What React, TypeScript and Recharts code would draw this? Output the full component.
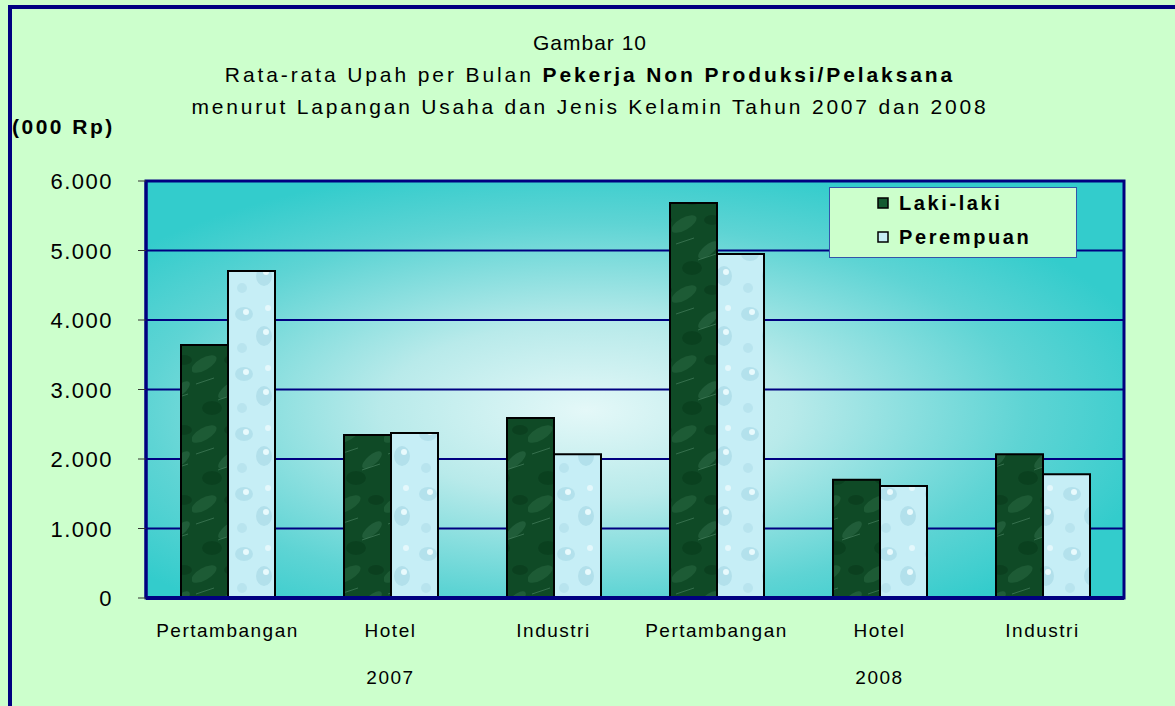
import React from 'react';
import {
  BarChart,
  Bar,
  XAxis,
  YAxis,
  CartesianGrid,
  Legend,
  ReferenceArea,
} from 'recharts';

const categories = ['Pertambangan', 'Hotel', 'Industri', 'Pertambangan', 'Hotel', 'Industri'];
const years = ['', '2007', '', '', '2008', ''];
const lakiLaki = [3640, 2345, 2590, 5685, 1700, 2070];
const perempuan = [4705, 2375, 2070, 4950, 1610, 1780];
const yTicks = [0, 1000, 2000, 3000, 4000, 5000, 6000];

const data = categories.map((name, i) => ({
  name,
  year: years[i],
  laki: lakiLaki[i],
  perempuan: perempuan[i],
}));

const NAVY = '#000080';
const FONT = '"Liberation Sans", Arial, sans-serif';

const fmt = (v: number) => (v === 0 ? '0' : v.toLocaleString('de-DE'));

const YTick = ({ y, payload }: any) => (
  <text x={113} y={y} dy={8} textAnchor="end" fontSize={22} letterSpacing={1.5} fontFamily={FONT} fill="#000">
    {fmt(payload.value)}
  </text>
);

const XTick = ({ x, y, payload, index }: any) => (
  <g>
    <text x={x} y={y + 31} textAnchor="middle" fontSize={19} letterSpacing={1.5} fontFamily={FONT} fill="#000">
      {payload.value}
    </text>
    {years[index] ? (
      <text x={x} y={y + 78} textAnchor="middle" fontSize={19} letterSpacing={1.5} fontFamily={FONT} fill="#000">
        {years[index]}
      </text>
    ) : null}
  </g>
);

const LegendBox = () => (
  <div
    style={{
      position: 'relative',
      width: 248,
      height: 71,
      background: '#CCFFCC',
      border: '1px solid #3355AA',
      boxSizing: 'border-box',
      fontFamily: FONT,
      fontWeight: 'bold',
      fontSize: 20,
      letterSpacing: 2.6,
      color: '#000',
    }}
  >
    {[
      { label: 'Laki-laki', fill: '#145A30' },
      { label: 'Perempuan', fill: '#C8EEF6' },
    ].map((it, i) => (
      <div key={it.label} style={{ position: 'absolute', left: 47, top: 3 + i * 34, display: 'flex', alignItems: 'center', height: 24 }}>
        <svg width={12} height={12} style={{ marginRight: 10 }}>
          <rect x={1} y={1} width={10} height={10} fill={it.fill} stroke="#000" strokeWidth={1.5} />
        </svg>
        <span>{it.label}</span>
      </div>
    ))}
  </div>
);

export default function App() {
  return (
    <div
      style={{
        position: 'absolute',
        left: 0,
        top: 0,
        width: 1175,
        height: 706,
        overflow: 'hidden',
        background: '#CCFFCC',
      }}
    >
      <div
        style={{
          position: 'absolute',
          left: 8,
          top: 5,
          width: 1200,
          height: 800,
          border: `4px solid ${NAVY}`,
          boxSizing: 'border-box',
        }}
      />
      <div style={{ position: 'absolute', left: 0, top: 27, width: 1180, textAlign: 'center', fontFamily: FONT, fontSize: 21, lineHeight: '32px', color: '#000' }}>
        <div style={{ letterSpacing: 1 }}>Gambar 10</div>
        <div style={{ letterSpacing: 2.9 }}>
          Rata-rata Upah per Bulan <b>Pekerja Non Produksi/Pelaksana</b>
        </div>
        <div style={{ letterSpacing: 2.8 }}>menurut Lapangan Usaha dan Jenis Kelamin Tahun 2007 dan 2008</div>
      </div>
      <div style={{ position: 'absolute', left: 12, top: 115, fontFamily: FONT, fontSize: 21, letterSpacing: 2.5, fontWeight: 'bold' }}>(000 Rp)</div>
      <div style={{ position: 'absolute', left: 0, top: 0 }}>
        <BarChart
          width={1175}
          height={706}
          data={data}
          margin={{ top: 181, right: 51, bottom: 8, left: 0 }}
          barGap={0}
          barSize={47}
        >
          <defs>
            <radialGradient id="plotBg" cx="0.45" cy="0.55" r="0.6">
              <stop offset="0" stopColor="#E4F8F8" />
              <stop offset="0.35" stopColor="#B8EAEA" />
              <stop offset="0.75" stopColor="#5ED4D4" />
              <stop offset="1" stopColor="#33CCCC" />
            </radialGradient>
            <pattern id="marble" patternUnits="userSpaceOnUse" width="48" height="70">
              <rect width="48" height="70" fill="#0F4A26" />
              <ellipse cx="12" cy="14" rx="14" ry="6" fill="#2E6E48" opacity="0.45" transform="rotate(-30 12 14)" />
              <ellipse cx="36" cy="40" rx="12" ry="5" fill="#3A7A55" opacity="0.4" transform="rotate(-40 36 40)" />
              <ellipse cx="20" cy="58" rx="10" ry="7" fill="#063A1A" opacity="0.6" />
              <ellipse cx="40" cy="10" rx="8" ry="5" fill="#08381A" opacity="0.6" />
              <path d="M4 34 L22 28 M26 50 L44 44" stroke="#5A9272" strokeWidth="1" opacity="0.5" />
            </pattern>
            <pattern id="bubbles" patternUnits="userSpaceOnUse" width="46" height="60">
              <rect width="46" height="60" fill="#C6EEF6" />
              <ellipse cx="14" cy="14" rx="9" ry="7" fill="#A6D9E6" opacity="0.6" />
              <ellipse cx="34" cy="36" rx="8" ry="10" fill="#9ED2E0" opacity="0.5" />
              <circle cx="12" cy="48" r="5" fill="#B2E0EB" opacity="0.7" />
              <circle cx="38" cy="8" r="3" fill="#E4F8FC" />
              <circle cx="16" cy="12" r="3" fill="#E8FAFD" />
              <circle cx="36" cy="32" r="3" fill="#E8FAFD" />
            </pattern>
          </defs>
          <CartesianGrid
            vertical={false}
            stroke={NAVY}
            strokeWidth={2}
            fill="url(#plotBg)"
            fillOpacity={1}
          />
          <ReferenceArea
            y1={0}
            y2={6000}
            fill="none"
            stroke={NAVY}
            strokeWidth={3}
            ifOverflow="visible"
          />
          <XAxis
            dataKey="name"
            axisLine={{ stroke: NAVY, strokeWidth: 4 }}
            tickLine={false}
            tick={<XTick />}
            interval={0}
            height={100}
          />
          <YAxis
            domain={[0, 6000]}
            ticks={yTicks}
            width={146}
            axisLine={{ stroke: NAVY, strokeWidth: 3 }}
            tickLine={{ stroke: '#333', strokeWidth: 1 }}
            tickSize={8}
            tick={<YTick />}
          />
          <Legend
            layout="vertical"
            align="center"
            verticalAlign="middle"
            wrapperStyle={{ position: 'absolute', left: 829, top: 187, width: 248, height: 71 }}
            content={() => <LegendBox />}
          />
          <Bar dataKey="laki" name="Laki-laki" fill="url(#marble)" stroke="#000" strokeWidth={2} isAnimationActive={false} />
          <Bar dataKey="perempuan" name="Perempuan" fill="url(#bubbles)" stroke="#000" strokeWidth={2} isAnimationActive={false} />
        </BarChart>
      </div>
    </div>
  );
}
